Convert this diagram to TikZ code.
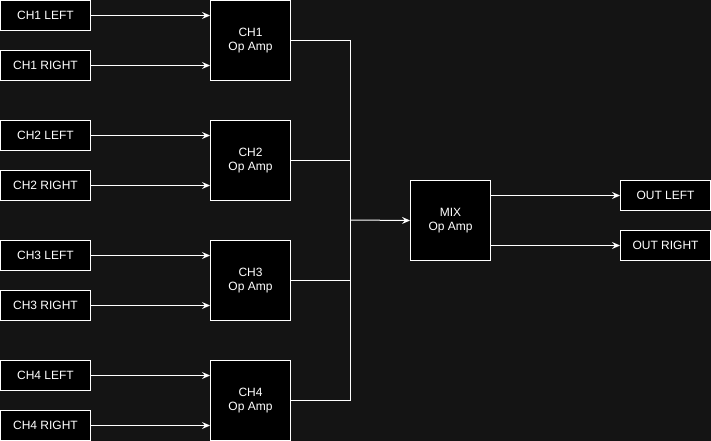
\documentclass[tikz,border=0pt]{standalone}
\usepackage{fontspec}
\setmainfont{Liberation Sans}
\usetikzlibrary{arrows.meta}
\definecolor{bg}{HTML}{141414}
\begin{document}
\begin{tikzpicture}[x=1pt,y=-1pt,
  box/.style={draw=white,fill=black,line width=1pt,text=white,inner sep=0pt,
    font=\fontsize{12}{14.5}\selectfont,align=center,anchor=north west},
  inbox/.style={box,minimum width=90pt,minimum height=30pt},
  ampbox/.style={box,minimum width=80pt,minimum height=80pt},
  wire/.style={draw=white,line width=1pt},
  arr/.style={wire,-{Stealth[length=8pt,width=7pt,inset=3pt]}}]
\fill[bg] (0,0) rectangle (711,441);
\useasboundingbox (0,0) rectangle (711,441);
\foreach \i/\y in {1/0,2/120,3/240,4/360}{
  \node[inbox] (L\i) at (0,\y) {CH\i{} LEFT};
  \node[inbox] (R\i) at (0,\y+50) {CH\i{} RIGHT};
  \node[ampbox] (A\i) at (210,\y) {CH\i\\Op Amp};
  \draw[arr] (L\i.east) -- (A\i.west |- L\i.east);
  \draw[arr] (R\i.east) -- (A\i.west |- R\i.east);
}
\node[ampbox] (M) at (410,180) {MIX\\Op Amp};
\node[inbox] (OL) at (620,180) {OUT LEFT};
\node[inbox] (OR) at (620,230) {OUT RIGHT};
\coordinate (J) at (350,220);
\draw[wire] (A1.east) -| (J);
\draw[wire] (A4.east) -| (J);
\draw[wire] (A2.east) -- (A2.east -| J);
\draw[wire] (A3.east) -- (A3.east -| J);
\draw[arr] (J) -- (M.west);
\draw[arr] (M.east |- OL.west) -- (OL.west);
\draw[arr] (M.east |- OR.west) -- (OR.west);
\end{tikzpicture}
\end{document}
